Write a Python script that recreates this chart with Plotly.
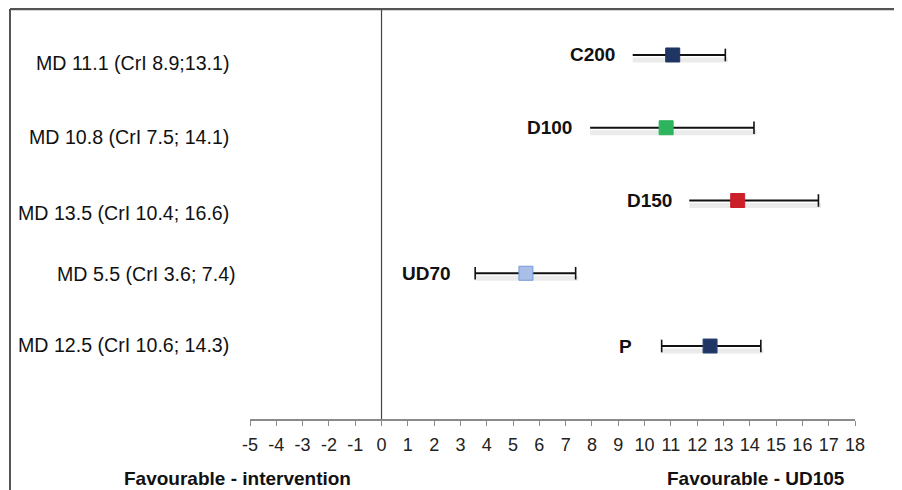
import plotly.graph_objects as go

# ---- data ----
groups = ["C200", "D100", "D150", "UD70", "P"]
md_labels = [
    "MD 11.1 (CrI 8.9;13.1)",
    "MD 10.8 (CrI 7.5; 14.1)",
    "MD 13.5 (CrI 10.4; 16.6)",
    "MD 5.5 (CrI 3.6; 7.4)",
    "MD 12.5 (CrI 10.6; 14.3)",
]
md_values = [11.07, 10.82, 13.54, 5.49, 12.49]
ci_lower_drawn = [9.55, 7.93, 11.70, 3.56, 10.65]
ci_upper_drawn = [13.07, 14.16, 16.61, 7.38, 14.42]
left_cap = [False, False, False, True, True]
tick_values = list(range(-5, 19))

# ---- styling ----
marker_fill = ["#1F3564", "#2DB45C", "#CB1F2A", "#A9BFE7", "#1F3564"]
marker_edge = ["#1F3564", "#2DB45C", "#CB1F2A", "#7399D8", "#2A4478"]
md_yshift = [-8, -9, -12, -1, 1]
md_xshift = [0, 0, 0, 7, 0]
grp_xshift = [-16, -16, -15, -22, -28]
FONT = "Liberation Sans, Arial, sans-serif"

# page body has an 8px margin: figure coordinates = picture coordinates - 8
W, H = 894, 482
L, T, PW, PH = 242, 1, 605, 410

fig = go.Figure()
rows = list(range(len(groups)))

# shadows under the interval lines
for i in rows:
    fig.add_trace(go.Scatter(
        x=[ci_lower_drawn[i], ci_upper_drawn[i] + 0.1], y=[i + 0.07, i + 0.07],
        mode="lines", line=dict(color="rgba(0,0,0,0.08)", width=5),
        hoverinfo="skip", showlegend=False))

# interval lines and caps
for i in rows:
    fig.add_trace(go.Scatter(
        x=[ci_lower_drawn[i], ci_upper_drawn[i]], y=[i, i],
        mode="lines", line=dict(color="#111111", width=2),
        hoverinfo="skip", showlegend=False))
    cap_x = [ci_upper_drawn[i]] + ([ci_lower_drawn[i]] if left_cap[i] else [])
    fig.add_trace(go.Scatter(
        x=cap_x, y=[i] * len(cap_x), mode="markers",
        marker=dict(symbol="line-ns", size=9, line=dict(color="#111111", width=1.6)),
        hoverinfo="skip", showlegend=False))

# point estimates
fig.add_trace(go.Scatter(
    x=md_values, y=rows, mode="markers",
    marker=dict(symbol="square", size=14, color=marker_fill,
                line=dict(color=marker_edge, width=1)),
    showlegend=False))

annotations = []
for i in rows:
    annotations.append(dict(
        x=ci_lower_drawn[i], y=i, xref="x", yref="y", text="<b>%s</b>" % groups[i],
        showarrow=False, xanchor="right", yanchor="middle", xshift=grp_xshift[i],
        font=dict(family=FONT, size=19, color="#111111")))
    annotations.append(dict(
        x=-19 / PW, y=i, xref="paper", yref="y", text=md_labels[i],
        showarrow=False, xanchor="right", yanchor="middle",
        xshift=md_xshift[i], yshift=md_yshift[i],
        font=dict(family=FONT, size=19.6, color="#111111")))

annotations.append(dict(
    x=(237 - 250) / PW, y=(419 - 479) / PH, xref="paper", yref="paper",
    text="<b>Favourable - intervention</b>", showarrow=False,
    xanchor="center", yanchor="middle",
    font=dict(family=FONT, size=19, color="#111111")))
annotations.append(dict(
    x=(756 - 250) / PW, y=(419 - 479) / PH, xref="paper", yref="paper",
    text="<b>Favourable - UD105</b>", showarrow=False,
    xanchor="center", yanchor="middle",
    font=dict(family=FONT, size=19, color="#111111")))

shapes = [
    # zero line
    dict(type="line", xref="x", yref="paper", x0=0, x1=0, y0=0, y1=1,
         line=dict(color="#444444", width=1.2)),
    # outer frame: top and left
    dict(type="line", xref="paper", yref="paper", x0=(10 - 250) / PW, x1=(W + 8 - 250) / PW,
         y0=1, y1=1, line=dict(color="#555555", width=2.5)),
    dict(type="line", xref="paper", yref="paper", x0=(10 - 250) / PW, x1=(10 - 250) / PW,
         y0=1, y1=(419 - 495) / PH, line=dict(color="#555555", width=2)),
]

fig.update_layout(
    width=W, height=H, autosize=False,
    margin=dict(l=L, r=W - L - PW, t=T, b=H - T - PH),
    paper_bgcolor="white", plot_bgcolor="white",
    annotations=annotations, shapes=shapes,
    xaxis=dict(range=[-5, 18], tickvals=tick_values, ticktext=[str(v) for v in tick_values],
               showgrid=False, zeroline=False, showline=True, linecolor="#8a8a8a", linewidth=1.5,
               ticks="outside", ticklen=5, tickwidth=1.2, tickcolor="#8a8a8a",
               ticklabelstandoff=4,
               tickfont=dict(family=FONT, size=18, color="#222222")),
    yaxis=dict(range=[5.003, -0.632], showgrid=False, zeroline=False, showline=False,
               showticklabels=False, ticks=""),
)

fig.write_html("out.html")
